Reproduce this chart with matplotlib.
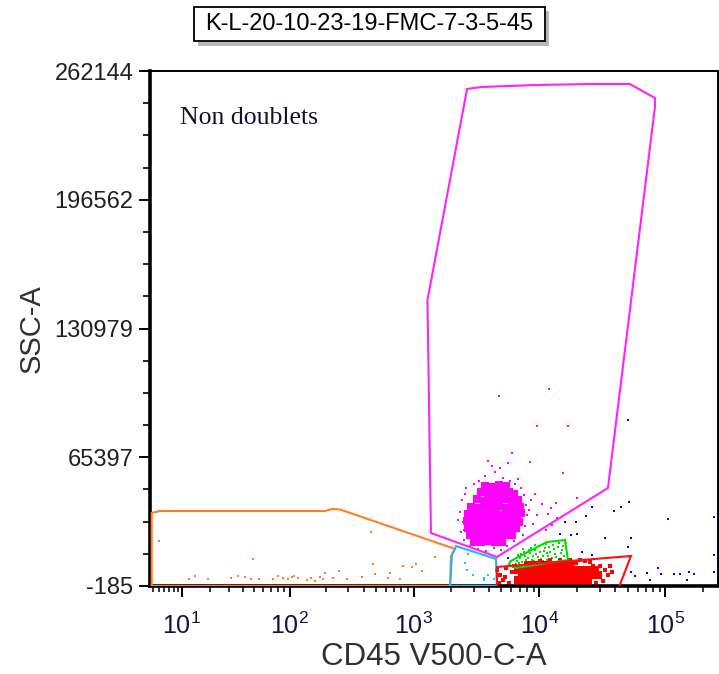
import matplotlib
matplotlib.use('Agg')
import matplotlib.pyplot as plt
import numpy as np
from matplotlib.ticker import FixedLocator, FixedFormatter
from matplotlib.patches import Rectangle, Polygon

plt.rcParams['font.family'] = ['Liberation Sans', 'DejaVu Sans']
plt.rcParams['mathtext.fontset'] = 'custom'
plt.rcParams['mathtext.rm'] = 'Liberation Sans'
plt.rcParams['mathtext.it'] = 'Liberation Sans:italic'

# ---- data (CD45 V500-C-A, SSC-A) ----
title_text = 'K-L-20-10-23-19-FMC-7-3-5-45'
gate_label = 'Non doublets'
y_ticks = [-185, 65397, 130979, 196562, 262144]
x_decades = [1, 2, 3, 4, 5]

# gates
gate_magenta = [(2666, 253000), (3504, 254000), (9225, 255000), (24730, 255500), (52270, 255500),
                (82500, 248400), (82500, 243800), (34990, 49740), (4604, 14590), (1376, 26810),
                (1291, 145500)]
gate_cyan = [(2176, 20190), (4520, 13570), (4604, -185), (1954, -185), (2021, 15600)]
gate_orange = [(3.86, -185), (3.86, 37000), (5.2, 38020), (195, 38020), (222, 39040), (258, 38780),
               (2141, 18660), (1986, 15100), (1954, -185)]
gate_green = [(5900, 12500), (11480, 22230), (15950, 23250), (16840, 13060), (6519, 9000), (5700, 10500)]
gate_red = [(4604, 9494), (53230, 15100), (41980, -2200), (4604, -2200)]

# events: dense cores
magenta_core = [
    (3700, 50800), (4200, 50300), (4780, 51200), (5430, 50600),
    (3440, 47500), (3905, 46800), (4440, 47400), (5045, 47000), (5730, 47600), (6280, 46900),
    (3190, 43900), (3630, 43300), (4125, 43800), (4690, 43500), (5330, 44000), (6055, 43200), (6755, 43700),
    (2860, 40300), (3250, 39800), (3697, 40200), (4200, 40000), (4775, 40400), (5427, 39700), (6165, 40100),
    (7010, 39900),
    (2720, 36700), (3080, 36300), (3500, 36800), (3975, 36400), (4520, 36600), (5140, 36200), (5839, 36700),
    (6635, 36400), (7140, 36900),
    (2670, 33100), (3020, 32700), (3440, 33200), (3905, 32800), (4440, 33000), (5045, 32600), (5730, 33100),
    (6515, 32900), (6880, 32500),
    (2720, 29600), (3080, 29100), (3500, 29500), (3975, 29200), (4520, 29400), (5140, 29000), (5839, 29500),
    (6515, 29200),
    (2810, 26000), (3190, 25600), (3630, 25900), (4125, 25500), (4690, 26000), (5330, 25700), (6055, 25900),
    (3020, 22400), (3440, 22000), (3905, 22500), (4440, 22100), (5045, 22300),
]
red_core = [
    (8190, 10500), (9305, 10400), (10575, 10600), (12020, 10450), (13660, 10550), (15520, 10400),
    (17640, 10300),
    (6755, 7965), (7680, 8100), (8734, 7900), (9920, 8050), (11272, 7950), (12810, 8100), (14560, 7900),
    (16540, 8000), (18800, 7850), (21370, 8050), (24280, 7900), (27590, 7800),
    (7210, 5400), (8190, 5500), (9305, 5350), (10575, 5450), (12020, 5400), (13660, 5500), (15520, 5350),
    (17640, 5450), (20050, 5400), (22780, 5500), (25890, 5350), (29420, 5450),
    (6755, 2870), (7680, 2950), (8734, 2800), (9920, 2900), (11272, 2850), (12810, 2950), (14560, 2800),
    (16540, 2900), (18800, 2850), (21370, 2950), (24280, 2800),
]
# events: scattered
magenta_sparse = [
    (3697, 55850), (4440, 57890), (5140, 54830), (5839, 53300), (3320, 53300), (4200, 60940), (3020, 51770),
    (6398, 51770), (4864, 59920), (2440, 43620), (2345, 37510), (2485, 32420), (2390, 27320), (2530, 23250),
    (2564, 46680), (2257, 33435), (7540, 46170), (7820, 41080), (7965, 35980), (7680, 30380), (7405, 25800),
    (8260, 38530), (8565, 43620), (3250, 18660), (3765, 17640), (4360, 19170), (4960, 18150), (2810, 20190),
    (5525, 20190), (2600, 49500), (7200, 49800), (6800, 54500), (8900, 31500), (9600, 36000), (10400, 41500),
    (2500, 28500), (6300, 22500), (9300, 46500), (3900, 63500), (5600, 62500),
    (11800, 36500), (12600, 31000), (13900, 34500), (11200, 28500), (12300, 39500), (4770, 96750),
    (12000, 100200), (9500, 81300), (17000, 81300), (6100, 67700), (8400, 63000), (15300, 57400),
    (20000, 44800), (13500, 42100),
]
red_sparse = [
    (4600, 7965), (4864, 5418), (5140, 2871), (5427, 8984), (5730, 1343), (6055, 6947), (4775, 1343),
    (5329, 4400), (6280, 10000), (30230, 10000), (33110, 7965), (34990, 5418), (37620, 6947), (31930, 2362),
    (28090, 1343), (36270, 10000), (25180, 12040), (22980, 12550), (20970, 13059), (10100, 12550),
    (12130, 13059), (14560, 13059), (17470, 13059), (19500, 11500), (26500, 9800),
]
green_events = [
    (6200, 13000), (6800, 15500), (7300, 12000), (7600, 17000), (8100, 14000), (8600, 19000),
    (9000, 12500), (9400, 16000), (9900, 20000), (10300, 13500), (10800, 17500), (11300, 21000),
    (11800, 15000), (12400, 12000), (13000, 18500), (13500, 14500), (14200, 21500), (14800, 16500),
    (15500, 12500), (6500, 11000), (7000, 14000), (7900, 11500), (8400, 16500), (9200, 18000),
    (10000, 11200), (10600, 15200), (11500, 13000), (12200, 17000), (13300, 11800), (14000, 19500),
    (15300, 20000), (8800, 13200), (9700, 14800), (11000, 19200), (6000, 12300), (7400, 18500),
    (12800, 20500), (15800, 15000), (6600, 12400), (7100, 16300), (7800, 13300), (8300, 18000),
    (8900, 15300), (9500, 11800), (10100, 17200), (10700, 12700), (11400, 16600), (12000, 19800),
    (12600, 14200), (13200, 16300), (14500, 13600), (15000, 18000), (16300, 21800), (9300, 20600),
    (7700, 14900), (6900, 11600),
]
blue_events = [
    (50700, 84400), (51400, 42450), (44500, 40060), (38900, 38200), (25900, 40000), (23600, 35600),
    (19500, 32600), (104000, 33950), (242000, 35100), (20000, 26150), (33000, 24500), (53200, 24500),
    (21700, 17300), (25900, 15600), (50700, 19500), (242000, 15600), (53700, 7100), (70800, 6200),
    (87000, 8800), (92500, 5900), (130200, 5900), (154000, 7100), (168000, 5900), (147000, 2870),
    (75300, 2870), (242000, 7100), (57000, 5060), (116000, 5900), (14560, 26300), (17940, 25800),
    (7680, 11020), (10700, 12200), (5630, 14080), (15950, 32600),
]
cyan_events = [(2575, 11380), (2980, 5420), (2660, 7965), (3600, 3740), (3900, 5420), (4330, 3380),
               (3600, 2870), (2700, 16000)]
orange_events = [
    (5.06, 22890), (12.2, 3230), (14.0, 4910), (19.1, 3230), (31.1, 4040), (36.4, 4910), (41.7, 4250),
    (47.1, 3530), (49.3, 13570), (55.5, 3230), (72.1, 3230), (80.4, 4910), (88.5, 3740), (97.4, 3230),
    (104, 4250), (108.6, 4910), (117.8, 3740), (138, 2870), (149, 3740), (161.5, 2520), (177.3, 4250),
    (186.5, 3230), (195, 6280), (227.4, 3740), (253, 7610), (291.6, 3230), (385, 4250), (454.6, 27170),
    (471.8, 11020), (492, 5930), (628.6, 3740), (648.5, 6590), (779.5, 3230), (828, 10000), (966, 9340),
    (1045, 10870), (1160, 7610), (1481, 14740),
]

# ---- scale: log-like display compressed near zero ----
XOFF = 4.56


def fwd(v):
    return np.log10(np.maximum(np.asarray(v, dtype=float) + XOFF, 1e-6))


def inv(v):
    return 10.0 ** np.asarray(v, dtype=float) - XOFF


fig = plt.figure(figsize=(7.19, 6.74), dpi=100)
ax = fig.add_axes([150 / 719, 88 / 674, 568 / 719, 515 / 674])
ax.set_xscale('function', functions=(fwd, inv))
ax.set_xlim(3.6, 261000)
ax.set_ylim(-185, 262144)


def pts(lst):
    a = np.array(lst, dtype=float)
    return a[:, 0], a[:, 1]


# events
for lst, size, col in [(orange_events, 3, '#ff7f27'), (cyan_events, 4, '#22c4f4'),
                       (magenta_core, 30, '#ff00ff'), (magenta_sparse, 4, '#ff00ff'),
                       (green_events, 4, '#00e000'), (red_core, 34, '#ff0000'),
                       (red_sparse, 5, '#ff0000'), (blue_events, 4, '#0000ff')]:
    x, y = pts(lst)
    ax.scatter(x, y, s=size, marker='s', c=col, linewidths=0, zorder=2)

# gates
for g, col in [(gate_orange, '#ff7f27'), (gate_cyan, '#22b8ee'), (gate_magenta, '#ff22ff'),
               (gate_green, '#00dd00'), (gate_red, '#ff1010')]:
    ax.add_patch(Polygon(g, closed=True, fill=False, edgecolor=col, linewidth=1.5, zorder=3))

ax.text(0.053, 0.897, gate_label, transform=ax.transAxes, family='Liberation Serif',
        fontsize=18.5, color='#121230', ha='left', va='baseline')

# axes styling
for side in ['left', 'bottom']:
    ax.spines[side].set_linewidth(2.6)
for side in ['top', 'right']:
    ax.spines[side].set_linewidth(1.4)

ax.yaxis.set_major_locator(FixedLocator(y_ticks))
ax.yaxis.set_major_formatter(FixedFormatter([str(t) for t in y_ticks]))
ax.yaxis.set_minor_locator(FixedLocator([a + (b - a) * k / 4 for a, b in zip(y_ticks[:-1], y_ticks[1:])
                                         for k in (1, 2, 3)]))
ax.tick_params(axis='y', which='major', length=8, width=1.4, pad=4, labelsize=17, labelcolor='#202020')
ax.tick_params(axis='y', which='minor', length=5, width=1.2)

ax.xaxis.set_major_locator(FixedLocator([10.0 ** d for d in x_decades]))
ax.xaxis.set_major_formatter(FixedFormatter([r'$\mathregular{10^{%d}}$' % d for d in x_decades]))
ax.xaxis.set_minor_locator(FixedLocator([m * 10.0 ** d for d in range(0, 6) for m in range(2, 10)
                                         if 4 <= m * 10.0 ** d <= 261000]))
ax.tick_params(axis='x', which='major', length=8, width=1.4, pad=11, labelsize=18, labelcolor='#1a1040')
ax.tick_params(axis='x', which='minor', length=4, width=1.1)

ax.set_xlabel('CD45 V500-C-A', fontsize=22.5, color='#303030', labelpad=2)
ax.set_ylabel('SSC-A', fontsize=21, color='#303030', labelpad=6)

# title box with shadow
fig.patches.append(Rectangle((198 / 719, 1 - 46 / 674), 351 / 719, 35 / 674, transform=fig.transFigure,
                             facecolor='#b8b8b8', edgecolor='none', zorder=1))
fig.patches.append(Rectangle((194 / 719, 1 - 41 / 674), 351 / 719, 34 / 674, transform=fig.transFigure,
                             facecolor='white', edgecolor='black', linewidth=1.3, zorder=2))
fig.text(369.5 / 719, 1 - 24 / 674, title_text, fontsize=17, ha='center', va='center', color='black', zorder=3)

fig.savefig('out.png', dpi=100)
